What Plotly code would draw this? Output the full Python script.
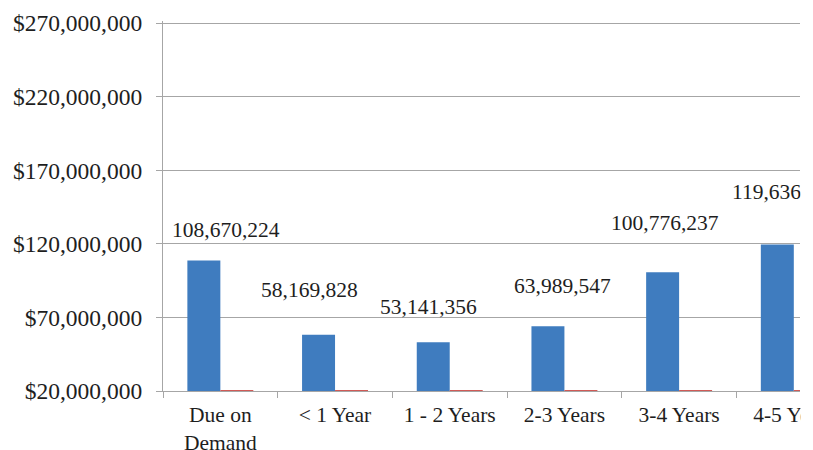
import plotly.graph_objects as go

# Maturity buckets and amounts
categories = ["Due on<br>Demand", "< 1 Year", "1 - 2 Years", "2-3 Years", "3-4 Years", "4-5 Years"]
balances = [108670224, 58169828, 53141356, 63989547, 100776237, 119636485]
second_series = [0, 0, 0, 0, 0, 0]
y_tick_values = [20000000, 70000000, 120000000, 170000000, 220000000, 270000000]
y_tick_labels = ["$20,000,000", "$70,000,000", "$120,000,000",
                 "$170,000,000", "$220,000,000", "$270,000,000"]

Y_MIN, Y_MAX = y_tick_values[0], y_tick_values[-1]
Y_PAD = 0.006 * (Y_MAX - Y_MIN)  # keeps the top gridline inside the plot area
FONT = "Liberation Serif"
TEXT_COLOR = "#1e1e1e"
GRID_COLOR = "#a6a6a6"

# pixel nudges for the value labels (x, y)
label_shift = [(6, 31), (-26, 45), (-21, 35), (-2, 40), (-14, 49), (-8, 52)]

fig = go.Figure()
fig.add_trace(go.Bar(
    x=categories, y=balances,
    marker=dict(color="#3f7cbf", line=dict(width=0)),
    hoverinfo="skip",
))
fig.add_trace(go.Bar(
    x=categories, y=second_series, base=Y_MIN,
    marker=dict(color="#d05a56", line=dict(color="#d05a56", width=2)),
    hoverinfo="skip",
))

for cat, val, (dx, dy) in zip(categories, balances, label_shift):
    fig.add_annotation(
        x=cat, y=val, xref="x", yref="y",
        text=f"{val:,}", showarrow=False,
        xanchor="center", yanchor="middle",
        xshift=dx, yshift=dy,
        font=dict(family=FONT, size=21.5, color=TEXT_COLOR),
    )

# white strip hiding everything past the plot's right edge
fig.add_annotation(
    x=1, y=0.5, xref="paper", yref="paper",
    xanchor="left", yanchor="middle",
    text=" ", showarrow=False,
    width=80, height=600, bgcolor="white", borderpad=0,
)

fig.update_layout(
    width=813, height=450, autosize=False,
    margin=dict(l=163, r=13, t=21, b=59, pad=0),
    paper_bgcolor="white", plot_bgcolor="white",
    barmode="group", bargap=0.425, bargroupgap=0,
    showlegend=False,
    font=dict(family=FONT, color=TEXT_COLOR),
)
fig.update_xaxes(
    type="category", range=[-0.5, 5.054], automargin=False,
    tickson="boundaries", ticks="outside", ticklen=6, tickwidth=1.3, tickcolor=GRID_COLOR,
    showline=True, linecolor=GRID_COLOR, linewidth=1.3,
    showgrid=False, ticklabelstandoff=4,
    tickfont=dict(family=FONT, size=21.5, color=TEXT_COLOR),
)
fig.update_yaxes(
    range=[Y_MIN, Y_MAX + Y_PAD], tickmode="array", tickvals=y_tick_values, ticktext=y_tick_labels,
    automargin=False,
    ticks="outside", ticklen=6, tickwidth=1.3, tickcolor=GRID_COLOR,
    showline=True, linecolor=GRID_COLOR, linewidth=1.3,
    showgrid=True, gridcolor=GRID_COLOR, gridwidth=1.3,
    zeroline=False, ticklabelstandoff=9,
    tickfont=dict(family=FONT, size=23.5, color=TEXT_COLOR),
)

fig.write_html("out.html")
